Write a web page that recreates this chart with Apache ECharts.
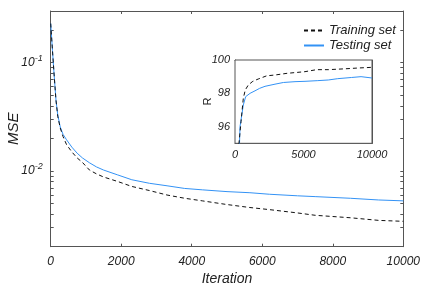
<!DOCTYPE html>
<html><head><meta charset="utf-8">
<script src="https://cdn.jsdelivr.net/npm/echarts@6/dist/echarts.min.js"></script>
<style>html,body{margin:0;padding:0;background:#fff}#c{width:436px;height:294px}</style>
</head><body><div id="c"></div>
<script>
// Main plot: MSE vs iteration
const iterMain = [0,50,100,150,200,270,350,450,600,750,900,1100,1300,1500,1900,2300,2800,3300,3800,4300,5000,5650,6200,7000,7500,8500,9300,10000];
const mseTesting = [0.23,0.13,0.075,0.045,0.033,0.0255,0.0218,0.0194,0.0166,0.0146,0.0132,0.0119,0.0109,0.0102,0.0092,0.0083,0.0077,0.0073,0.0069,0.0067,0.00645,0.0063,0.0061,0.0059,0.0058,0.0056,0.0054,0.0053];
const mseTraining = [0.23,0.13,0.075,0.045,0.032,0.025,0.0208,0.0175,0.0150,0.0132,0.0120,0.0102,0.0094,0.0088,0.0080,0.0072,0.0066,0.0060,0.0056,0.0053,0.0049,0.0046,0.0044,0.0041,0.0039,0.0037,0.0035,0.00343];
// Inset: R vs iteration
const iterInsetTest = [150,365,606,780,1100,1460,1800,2190,2920,3530,4380,5110,6000,6810,7500,8500,9200,10000];
const rTesting = [90,96,97.3,97.8,98.0,98.15,98.3,98.42,98.55,98.65,98.7,98.72,98.76,98.8,98.88,98.95,99.0,98.92];
const iterInsetTrain = [200,290,440,606,750,970,1300,1700,2310,2920,3800,5110,5960,6810,8000,9000,10000];
const rTraining = [92,95,96.3,97.7,98.2,98.5,98.72,98.86,99.05,99.1,99.2,99.3,99.42,99.42,99.47,99.52,99.56];
// Tick values
const xMainTicks = [0,2000,4000,6000,8000,10000];
const yMainLabels = [0.01,0.1];
const yMainTicks = [0.002,0.003,0.004,0.005,0.006,0.007,0.008,0.009,0.01,0.02,0.03,0.04,0.05,0.06,0.07,0.08,0.09,0.1,0.2,0.3];
const xInsetTicks = [0,5000,10000];
const yInsetTicks = [96,98,100];

const FONT = 'Liberation Sans, Arial, sans-serif';
const AX = '#555';
const BLUE = '#3392f5';
const pairs = (xs, ys) => xs.map((x, i) => [x, ys[i]]);
const plain = v => String(v);
const lblMain = {fontFamily: FONT, fontStyle: 'italic', fontSize: 12, color: '#222'};
const lblInset = {fontFamily: FONT, fontStyle: 'italic', fontSize: 11, color: '#222'};
const line = {onZero: false, lineStyle: {color: AX}};

function logLabel(v) {
  const e = Math.round(Math.log10(v));
  return '{b|10}{s|' + e + '}';
}

const chart = echarts.init(document.getElementById('c'), null, {renderer: 'canvas'});
chart.setOption({
  animation: false,
  backgroundColor: '#fff',
  grid: [
    {left: 50.7, right: 32.7, top: 11, bottom: 47.3, show: false, containLabel: false, outerBoundsMode: 'none'},
    {left: 235, right: 64, top: 60, bottom: 150.7, show: true, backgroundColor: '#fff', borderColor: AX, borderWidth: 1, z: 5, containLabel: false, outerBoundsMode: 'none'}
  ],
  legend: {
    orient: 'vertical', left: 298, top: 19, itemWidth: 20, itemHeight: 10, itemGap: 2,
    itemStyle: {opacity: 0},
    textStyle: {fontFamily: FONT, fontStyle: 'italic', fontSize: 13, color: '#222'},
    data: ['Training set', 'Testing set']
  },
  xAxis: [
    {gridIndex: 0, type: 'value', min: 0, max: 10000, interval: 2000, position: 'bottom',
     axisLine: line, axisTick: {inside: true, length: 3, lineStyle: {color: AX}},
     axisLabel: Object.assign({margin: 9, formatter: plain}, lblMain), splitLine: {show: false},
     name: 'Iteration', nameLocation: 'middle', nameGap: 25, nameMoveOverlap: false,
     nameTextStyle: {fontFamily: FONT, fontStyle: 'italic', fontSize: 14, color: '#222'}},
    {gridIndex: 0, type: 'value', min: 0, max: 10000, interval: 2000, position: 'top',
     axisLine: line, axisTick: {inside: true, length: 3, lineStyle: {color: AX}},
     axisLabel: {show: false}, splitLine: {show: false}},
    {gridIndex: 1, type: 'value', min: 0, max: 10000, interval: 5000, position: 'bottom',
     axisLine: line, axisTick: {inside: true, length: 2, lineStyle: {color: AX}},
     axisLabel: Object.assign({margin: 6, formatter: plain}, lblInset), splitLine: {show: false}},
    {gridIndex: 1, type: 'value', min: 0, max: 10000, interval: 5000, position: 'top',
     axisLine: line, axisTick: {inside: true, length: 2, lineStyle: {color: AX}},
     axisLabel: {show: false}, splitLine: {show: false}}
  ],
  yAxis: [
    {gridIndex: 0, type: 'log', logBase: 10, min: 0.002, max: 0.3, position: 'left',
     axisLine: line, axisTick: {inside: true, length: 3, customValues: yMainTicks, lineStyle: {color: AX}},
     axisLabel: Object.assign({margin: 8, customValues: yMainLabels, formatter: logLabel,
       rich: {b: Object.assign({}, lblMain), s: {fontFamily: FONT, fontStyle: 'italic', fontSize: 9, color: '#222', padding: [0, 0, 9, 0]}}}, lblMain),
     minorTick: {show: false}, splitLine: {show: false},
     name: 'MSE', nameLocation: 'middle', nameGap: 29, nameRotate: 90, nameMoveOverlap: false,
     nameTextStyle: {fontFamily: FONT, fontStyle: 'italic', fontSize: 15, color: '#222'}},
    {gridIndex: 0, type: 'log', logBase: 10, min: 0.002, max: 0.3, position: 'right',
     axisLine: line, axisTick: {inside: true, length: 3, customValues: yMainTicks, lineStyle: {color: AX}},
     axisLabel: {show: false}, splitLine: {show: false}},
    {gridIndex: 1, type: 'value', min: 95, max: 100, position: 'left',
     axisLine: line, axisTick: {inside: true, length: 2, customValues: yInsetTicks, lineStyle: {color: AX}},
     axisLabel: Object.assign({margin: 5, customValues: yInsetTicks}, lblInset), splitLine: {show: false},
     name: 'R', nameLocation: 'middle', nameGap: 22, nameRotate: 90, nameMoveOverlap: false,
     nameTextStyle: {fontFamily: FONT, fontSize: 11, color: '#222'}},
    {gridIndex: 1, type: 'value', min: 95, max: 100, position: 'right',
     axisLine: line, axisTick: {inside: true, length: 2, customValues: yInsetTicks, lineStyle: {color: AX}},
     axisLabel: {show: false}, splitLine: {show: false}}
  ],
  series: [
    {name: 'Training set', type: 'line', xAxisIndex: 0, yAxisIndex: 0, symbol: 'none', z: 3,
     lineStyle: {color: '#111', width: 1, type: [4, 3]}, itemStyle: {color: '#111'},
     data: pairs(iterMain, mseTraining)},
    {name: 'Testing set', type: 'line', xAxisIndex: 0, yAxisIndex: 0, symbol: 'none', z: 2,
     lineStyle: {color: BLUE, width: 1}, itemStyle: {color: BLUE},
     data: pairs(iterMain, mseTesting)},
    {name: 'Training set', type: 'line', xAxisIndex: 2, yAxisIndex: 2, symbol: 'none', z: 8, clip: true,
     lineStyle: {color: '#111', width: 1, type: [4, 3]}, itemStyle: {color: '#111'},
     data: pairs(iterInsetTrain, rTraining)},
    {name: 'Testing set', type: 'line', xAxisIndex: 2, yAxisIndex: 2, symbol: 'none', z: 7, clip: true,
     lineStyle: {color: BLUE, width: 1}, itemStyle: {color: BLUE},
     data: pairs(iterInsetTest, rTesting)}
  ]
});
</script>
</body></html>
